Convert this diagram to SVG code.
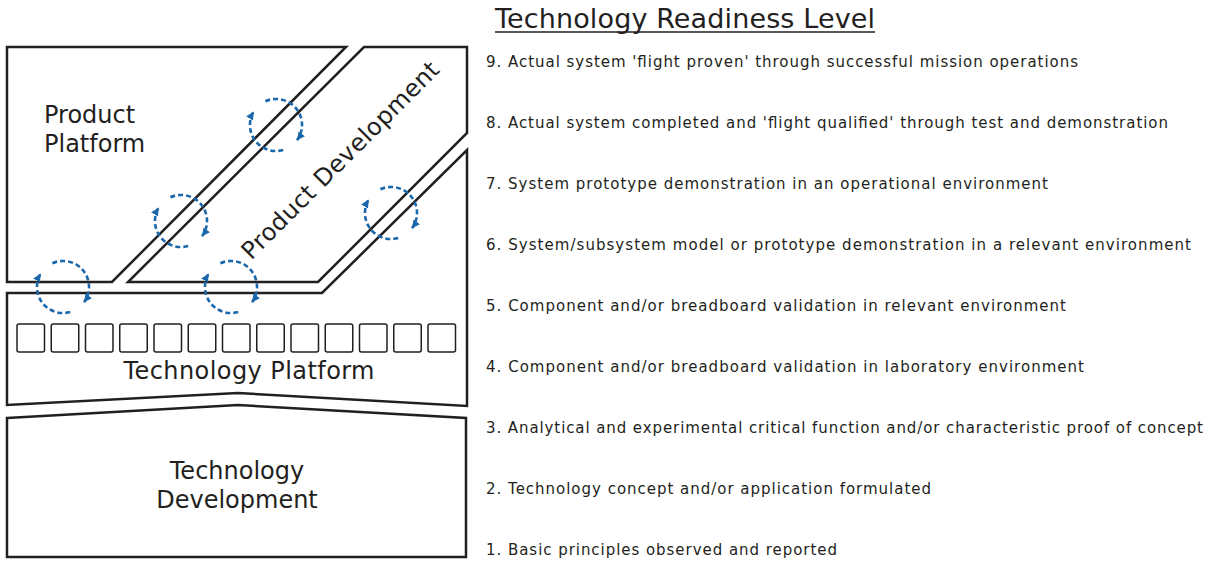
<svg xmlns="http://www.w3.org/2000/svg" width="1211" height="562" viewBox="0 0 1211 562">
<style>
.shape{fill:#fff;stroke:#231f20;stroke-width:2.5;stroke-linejoin:miter}
.sq{fill:#fff;stroke:#231f20;stroke-width:1.5}
.lbl{font-family:"DejaVu Sans",Verdana,sans-serif;font-size:24px;fill:#231f20}
.trl{font-family:"DejaVu Sans",Verdana,sans-serif;font-size:15px;fill:#231f20}
.ttl{font-family:"DejaVu Sans",Verdana,sans-serif;font-size:27px;fill:#231f20}
.loop{fill:none;stroke:#1a68ab;stroke-width:2.6;stroke-dasharray:5 3;marker-end:url(#ah)}
</style>
<defs>
<marker id="ah" markerUnits="userSpaceOnUse" markerWidth="9" markerHeight="8" refX="8" refY="4" orient="auto">
<path d="M0,0 L8,4 L0,8 Z" fill="#1a68ab"/>
</marker>
</defs>
<rect width="1211" height="562" fill="#fff"/>

<g id="product-platform">
<path class="shape" d="M7,47 H346 L112,282 H7 Z"/>
<text class="lbl" x="44" y="123">Product</text>
<text class="lbl" x="44" y="152">Platform</text>
</g>

<g id="product-development">
<path class="shape" d="M364,47 H467 V133 L318,282 H128 Z"/>
<text class="lbl" text-anchor="middle" transform="translate(346,166) rotate(-45)" textLength="268">Product Development</text>
</g>

<g id="technology-platform">
<path class="shape" d="M7,293 H322 L467,150 V406 L238,393 L7,405 Z"/>
<g>
<rect class="sq" x="17" y="324" width="27.5" height="28" rx="2"/>
<rect class="sq" x="51.25" y="324" width="27.5" height="28" rx="2"/>
<rect class="sq" x="85.5" y="324" width="27.5" height="28" rx="2"/>
<rect class="sq" x="119.75" y="324" width="27.5" height="28" rx="2"/>
<rect class="sq" x="154" y="324" width="27.5" height="28" rx="2"/>
<rect class="sq" x="188.25" y="324" width="27.5" height="28" rx="2"/>
<rect class="sq" x="222.5" y="324" width="27.5" height="28" rx="2"/>
<rect class="sq" x="256.75" y="324" width="27.5" height="28" rx="2"/>
<rect class="sq" x="291" y="324" width="27.5" height="28" rx="2"/>
<rect class="sq" x="325.25" y="324" width="27.5" height="28" rx="2"/>
<rect class="sq" x="359.5" y="324" width="27.5" height="28" rx="2"/>
<rect class="sq" x="393.75" y="324" width="27.5" height="28" rx="2"/>
<rect class="sq" x="428" y="324" width="27.5" height="28" rx="2"/>
</g>
<text class="lbl" x="249" y="379" text-anchor="middle" textLength="251">Technology Platform</text>
</g>

<g id="technology-development">
<path class="shape" d="M7,418 L238,405 L466,418 V557 H7 Z"/>
<text class="lbl" x="237" y="479" text-anchor="middle">Technology</text>
<text class="lbl" x="237" y="508" text-anchor="middle">Development</text>
</g>

<g id="connectors">
<g transform="translate(276,125)">
<path class="loop" d="M-10.6,-23.8 A26,26 0 0 1 21,15.3"/>
<path class="loop" d="M7.2,25 A26,26 0 0 1 -22.3,-13.4"/>
</g>
<g transform="translate(181,221)">
<path class="loop" d="M-10.6,-23.8 A26,26 0 0 1 21,15.3"/>
<path class="loop" d="M7.2,25 A26,26 0 0 1 -22.3,-13.4"/>
</g>
<g transform="translate(63,287)">
<path class="loop" d="M-10.6,-23.8 A26,26 0 0 1 21,15.3"/>
<path class="loop" d="M7.2,25 A26,26 0 0 1 -22.3,-13.4"/>
</g>
<g transform="translate(231,287)">
<path class="loop" d="M-10.6,-23.8 A26,26 0 0 1 21,15.3"/>
<path class="loop" d="M7.2,25 A26,26 0 0 1 -22.3,-13.4"/>
</g>
<g transform="translate(391,213)">
<path class="loop" d="M-10.6,-23.8 A26,26 0 0 1 21,15.3"/>
<path class="loop" d="M7.2,25 A26,26 0 0 1 -22.3,-13.4"/>
</g>
</g>

<g id="trl-list">
<text class="ttl" x="495" y="28" textLength="380">Technology Readiness Level</text>
<line x1="495" y1="32" x2="875" y2="32" stroke="#231f20" stroke-width="1.5"/>
<text class="trl" x="486" y="66.5" textLength="592">9. Actual system 'flight proven' through successful mission operations</text>
<text class="trl" x="486" y="127.5" textLength="682">8. Actual system completed and 'flight qualified' through test and demonstration</text>
<text class="trl" x="486" y="188.5" textLength="562">7. System prototype demonstration in an operational environment</text>
<text class="trl" x="486" y="249.5" textLength="705">6. System/subsystem model or prototype demonstration in a relevant environment</text>
<text class="trl" x="486" y="310.5" textLength="580">5. Component and/or breadboard validation in relevant environment</text>
<text class="trl" x="486" y="371.5" textLength="598">4. Component and/or breadboard validation in laboratory environment</text>
<text class="trl" x="486" y="432.5" textLength="717">3. Analytical and experimental critical function and/or characteristic proof of concept</text>
<text class="trl" x="486" y="493.5" textLength="445">2. Technology concept and/or application formulated</text>
<text class="trl" x="486" y="554.5" textLength="351">1. Basic principles observed and reported</text>
</g>
</svg>
